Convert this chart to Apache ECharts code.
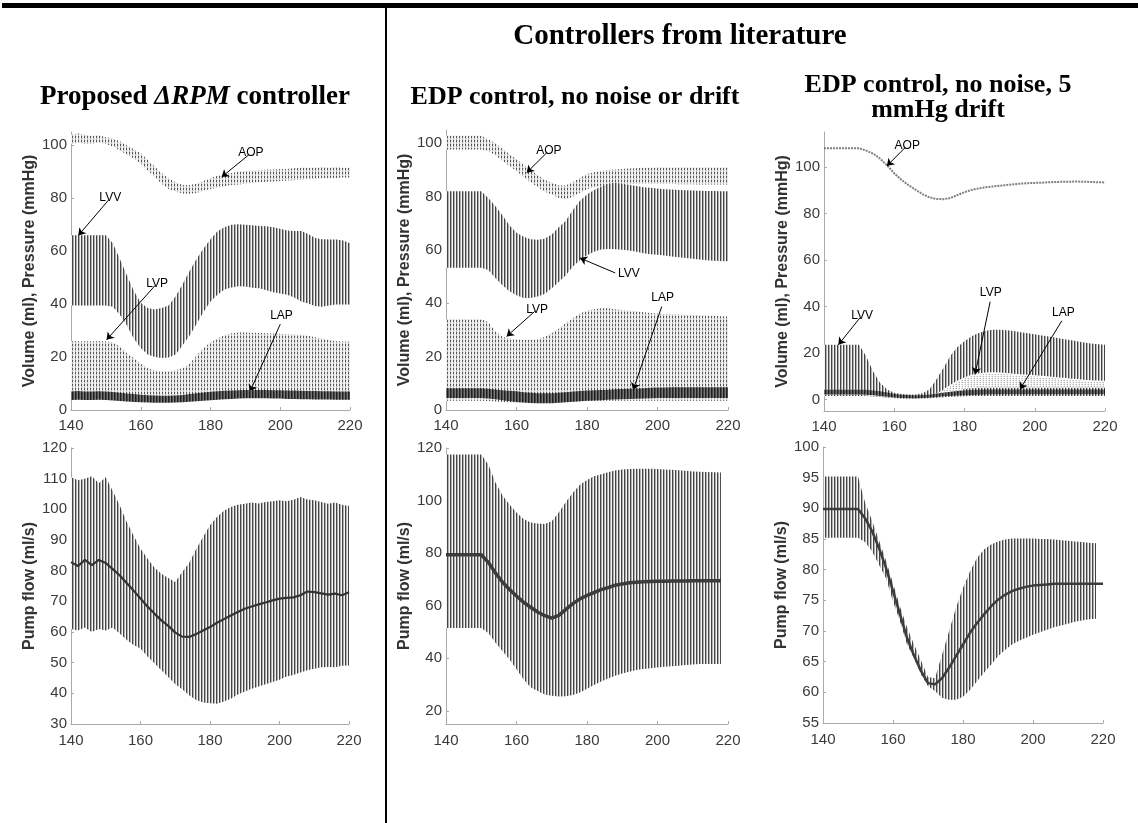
<!DOCTYPE html>
<html><head><meta charset="utf-8">
<script src="https://cdn.jsdelivr.net/npm/echarts@6/dist/echarts.min.js"></script>
<style>html,body{margin:0;padding:0;background:#fff}#c{width:1138px;height:823px}</style>
</head><body><div id="c"></div>
<script>
// ---------- data (time in s) ----------
const t = [140,142,144,146,148,150,152,154,156,158,160,162,164,166,168,170,172,174,176,178,180,182,184,186,188,190,192,194,196,198,200,202,204,206,208,210,212,214,216,218,220];

// Panel 1: Proposed ΔRPM controller
const p1AopHi = [104,104.5,104,103.5,103.8,103,102.5,101.5,100,98.5,97,94.5,92,89.5,87.5,86,85,85,85.5,86.5,87.5,88.5,89,89.5,90,90.3,90.5,90.5,90.8,90.8,91,91,91.3,91.5,91.5,91.5,91.8,91.5,91.8,91.5,91.5];
const p1AopLo = [100.5,101,100.5,100.5,101,100.5,99.5,98,96.5,95,93,90.5,88,85.5,83.5,82.5,81.8,81.7,82,82.8,83.5,84,84.5,85,85.2,85.5,85.8,86,86.2,86.3,86.5,86.7,86.8,87,87.2,87.3,87.5,87.5,87.6,87.8,87.8];
const p1LvvHi = [66,66,66,66,66,66,63,57,51,45,40.5,38.5,38,38.5,39.5,43,47.5,52.5,57,61,64.5,67.5,69,70,70.2,70,69.8,69.5,69.4,69,68.5,67.8,67.6,67.6,66.5,65,64.5,64.4,64.4,64,63];
const p1LvvLo = [39.5,39.5,39.5,39.5,39.5,39.5,39,36,32,27,23.4,21,20,19.6,19.8,21,24.5,28,32.5,37,41,43.5,45.5,46.3,46.7,46.6,46.2,46,45.2,44.5,44,43.5,42.5,41,40.2,39.3,39,39.5,39.8,39.8,39.8];
const p1LvpHi = [26,26,26,26,26,26,25.5,24,21.5,19.6,17.5,15.8,15,14.6,14.5,15,15.8,17.5,20.5,23.5,25.5,27,28.2,29,29.3,29.3,29.2,29.1,29,28.9,28.8,28.6,28.5,28.4,28,27.5,27,26.3,26,25.9,25.9];
const p1LvpLo = [4.5,4.5,4.5,4.5,4.5,4.5,4.3,4,3.8,3.6,3.4,3.2,3.1,3,3,3.1,3.2,3.4,3.6,3.8,4,4.2,4.4,4.6,4.7,4.8,4.8,4.8,4.8,4.8,4.8,4.8,4.7,4.7,4.6,4.6,4.6,4.5,4.5,4.5,4.5];
const p1LapHi = [7,7.2,7,7,7.1,7,6.8,6.5,6.2,6,5.8,5.6,5.5,5.4,5.4,5.5,5.7,6,6.3,6.6,6.9,7.1,7.3,7.4,7.5,7.6,7.6,7.6,7.6,7.5,7.5,7.4,7.4,7.3,7.2,7.2,7.1,7.1,7,7,7];
const p1LapLo = [3.8,3.9,3.8,3.8,3.9,3.8,3.6,3.4,3.2,3,2.9,2.8,2.7,2.7,2.7,2.8,2.9,3.1,3.3,3.5,3.7,3.9,4.1,4.2,4.3,4.4,4.4,4.4,4.4,4.3,4.3,4.2,4.2,4.1,4.1,4,4,4,3.9,3.9,3.9];

// Panel 2: EDP control, no noise or drift
const p2AopHi = [102.8,102.8,102.8,102.8,102.8,102.8,101.5,100,98,96,94,92,90,88,86.3,85.2,84.3,84.2,85.5,87,88.5,89.2,89.6,90,90.2,90.4,90.6,90.7,90.8,90.8,90.9,90.9,90.9,90.9,90.9,90.9,90.9,90.9,90.9,90.9,90.9];
const p2AopLo = [97.7,97.7,97.7,97.7,97.7,97.7,97,95.5,93.5,91.5,89.5,87.5,85.5,83.5,81.8,80.8,79.5,79,80,81.5,82.8,83.5,84,84.3,84.5,84.6,84.7,84.8,84.8,84.8,84.8,84.8,84.8,84.7,84.7,84.7,84.6,84.6,84.6,84.6,84.6];
const p2LvvHi = [82,82,82,82,82,82,79.5,76.5,73,69.3,66.5,65,64,63.8,64.2,65.8,68.5,71,75,78.5,80.8,82.5,83.8,84.8,85.2,84.8,84.4,84,83.5,83.3,83.1,82.8,82.7,82.5,82.4,82.3,82.2,82.1,82.1,82,82];
const p2LvvLo = [53.3,53.3,53.3,53.3,53.3,53.3,52.5,49.5,46.8,44.5,43,42,42,42.6,43.5,45.7,48,50.5,53.8,56.2,58,59.3,60.2,60.4,60.3,60.1,59.8,59.3,58.8,58.4,58.2,57.9,57.6,57.3,57,56.7,56.4,56.2,56,55.9,55.8];
const p2LvpHi = [34,34,34,34,34,34,33,29.5,27.5,26.8,26.4,26.3,26.3,26.5,27.5,28.8,30.5,32.6,34.5,36.2,37.2,37.8,38.2,38.2,37.8,37.5,37.2,37,36.7,36.4,36.2,36,35.9,35.8,35.7,35.6,35.5,35.4,35.3,35.2,35.1];
const p2LvpLo = [3.5,3.5,3.5,3.5,3.5,3.5,3.4,3.2,3,2.8,2.7,2.6,2.5,2.5,2.5,2.6,2.7,2.9,3.1,3.3,3.4,3.5,3.5,3.5,3.5,3.5,3.5,3.5,3.5,3.5,3.5,3.5,3.5,3.5,3.5,3.5,3.5,3.5,3.5,3.5,3.5];
const p2LapHi = [8.2,8.2,8.2,8.2,8.2,8.2,8,7.7,7.4,7.2,7,6.7,6.5,6.3,6.3,6.3,6.5,6.7,6.9,7.1,7.3,7.4,7.5,7.6,7.8,7.9,8,8.1,8.2,8.3,8.4,8.4,8.5,8.5,8.5,8.5,8.5,8.5,8.5,8.5,8.5];
const p2LapLo = [4.5,4.5,4.5,4.5,4.5,4.5,4.3,4,3.7,3.3,3,2.8,2.6,2.5,2.5,2.5,2.7,2.9,3.1,3.3,3.5,3.6,3.7,3.8,3.9,4,4.1,4.2,4.3,4.4,4.5,4.5,4.5,4.5,4.5,4.5,4.5,4.5,4.5,4.5,4.5];

// Panel 3: EDP control, no noise, 5 mmHg drift
const p3Aop = [108,108,108,108,108,108,107,105.7,103.5,100.6,97.2,94.5,92.2,90.2,88.3,86.9,86.2,86.1,86.6,87.9,89.1,90.1,90.7,91.2,91.6,91.9,92.2,92.5,92.8,93,93.1,93.2,93.4,93.5,93.6,93.6,93.7,93.6,93.5,93.4,93.3];
const p3LvvHi = [23.5,23.5,23.5,23.5,23.5,23.5,18.5,12,7,4.2,2.9,2.3,2.1,2.1,2.6,4.2,8.5,13.5,18.8,22.5,25,27.2,28.5,29.5,29.9,29.9,29.7,29.4,28.9,28.4,28,27.5,27,26.5,26,25.5,25,24.5,24,23.7,23.5];
const p3LvvLo = [1.5,1.5,1.5,1.5,1.5,1.5,1.4,1.2,1,0.7,0.5,0.4,0.4,0.4,0.4,0.5,0.7,0.9,1.1,1.2,1.3,1.4,1.5,1.5,1.5,1.5,1.5,1.5,1.5,1.5,1.5,1.5,1.5,1.5,1.5,1.5,1.5,1.5,1.5,1.5,1.5];
const p3LvpHi = [4.2,4.2,4.2,4.2,4.2,4.2,4,3.6,3.2,2.6,2.1,1.8,1.7,1.7,1.8,2,2.6,4,6,7.8,9.2,10.3,10.9,11.3,11.4,11.3,11.1,10.8,10.5,10.3,10.1,9.9,9.6,9.3,9,8.7,8.5,8.2,8,7.9,7.8];
const p3LvpLo = [2,2,2,2,2,2,1.8,1.5,1.2,0.9,0.8,0.8,0.8,0.8,0.8,0.8,1,1.4,2,3.2,4.5,4.8,5,5,5,5,5,5,5,5,5,5,5,5,5,5,5,5,5,5,5];
const p3LapHi = [4.3,4.3,4.3,4.3,4.3,4.3,4.1,3.8,3.5,3,2.3,2,1.9,1.8,1.9,2.1,2.5,2.9,3.3,3.6,3.8,4,4.1,4.2,4.3,4.3,4.3,4.3,4.3,4.3,4.3,4.3,4.3,4.3,4.3,4.3,4.3,4.3,4.3,4.3,4.3];
const p3LapLo = [2.1,2.1,2.1,2.1,2.1,2.1,2,1.8,1.5,1.1,0.8,0.6,0.5,0.5,0.6,0.7,1,1.3,1.5,1.7,1.8,1.9,2,2.1,2.2,2.2,2.2,2.2,2.2,2.2,2.2,2.2,2.2,2.2,2.2,2.2,2.2,2.2,2.2,2.2,2.2];

// Pump flow panels
const p4FlowHi = [110.5,109.5,110,110.8,108.5,110.5,106,101.3,96,91.5,87.2,84,81,79,77.6,76.3,79.6,82.5,87,91,94.8,97.5,99.5,100.8,101.5,101.8,102.2,101.9,102.4,102.6,103,102.6,103.1,104,103.2,103,102.4,101.8,102.2,101.5,101.1];
const p4FlowLo = [61,60.5,61.5,60,61,60.5,61.5,59.5,57.5,55.8,54.6,52,49.8,47.5,45.3,43,41.3,39.4,37.8,37,36.8,36.6,37.3,38.2,39.6,40.6,41.5,42.2,43,43.7,44.4,45.5,46,46.8,47.5,48,48.5,48.6,48.5,49,49.1];
const p4FlowMean = [82.8,81.5,83.5,81.8,83.5,82.5,80.5,78.5,76,73.5,70.9,68.3,66,63.8,62,59.8,58.5,58.4,59.3,60.5,61.6,63,64.2,65.4,66.5,67.6,68.3,69,69.6,70.3,70.9,71.1,71.3,72,73.2,73,72.6,72.2,72.5,72,73];

const p5FlowHi = [117.5,117.5,117.5,117.5,117.5,117.5,113.7,107,102,98.5,95.5,93,91.7,91.3,91.1,92.1,95.5,99.5,103,106,107.8,109.3,110,110.8,111.4,111.8,112,112.1,112.1,112.1,112,111.8,111.7,111.5,111.3,111.1,111,110.9,110.8,110.7,null];
const p5FlowLo = [51.5,51.5,51.5,51.5,51.5,51.5,49.6,46,42.8,39.6,35.8,32,29,27.6,26.2,25.7,25.5,25.6,26,27,28.4,29.8,31.2,32.3,33.4,34.2,34.9,35.5,35.9,36.2,36.5,36.8,37,37.2,37.4,37.6,37.8,37.8,37.8,37.8,null];
const p5FlowMean = [79.4,79.4,79.4,79.4,79.4,79.4,76.5,72.5,69,66.2,63.7,61.3,59.4,57.6,56.2,55.3,56.3,58.6,60.8,62.6,63.9,65,66.1,66.9,67.8,68.3,68.7,68.9,69.1,69.2,69.3,69.3,69.4,69.4,69.4,69.5,69.5,69.5,69.5,69.5,null];

const p6FlowHi = [95.2,95.2,95.2,95.2,95.2,95.2,91,88,84.8,81.5,77.8,74,70.6,67.8,65.2,62.5,62.3,66.1,69.9,73.8,77,79.7,81.9,83.3,84.1,84.6,84.9,85.1,85.1,85.1,85.1,85,85,84.9,84.8,84.7,84.6,84.5,84.4,84.3,null];
const p6FlowLo = [85.2,85.2,85.2,85.2,85.2,85.2,84.5,83,80.8,78.6,74.8,71.6,67.8,65.6,62.9,61,60.2,59.1,58.8,58.8,59.3,60.4,61.8,63.2,64.5,65.9,66.9,67.8,68.4,68.9,69.4,69.8,70.2,70.6,70.9,71.2,71.5,71.7,71.9,72,null];
const p6FlowMean = [89.9,89.9,89.9,89.9,89.9,89.9,88.4,86.3,83.5,80.3,76.5,72.7,68.9,66,63.5,61.5,61.3,62.3,64,65.9,67.8,69.7,71.3,72.7,74,75.1,75.9,76.5,76.9,77.2,77.4,77.5,77.6,77.7,77.7,77.7,77.7,77.7,77.7,77.7,77.7];

// annotations: [label, fromX, fromY, toX, toY]
const p1Notes = [['AOP',190.9,96.3,183.2,88],['LVV',150.7,79.2,142.1,65.9],['LVP',164.1,47,150.2,26.5],['LAP',200,32.4,191.3,6.9]];
const p2Notes = [['AOP',168.6,96.5,162.9,89],['LVV',188,51.4,178,57],['LVP',165.2,37,157.2,27.6],['LAP',201.2,38.8,193.1,7.5]];
const p3Notes = [['AOP',163.1,108.3,157.9,100.4],['LVV',150.3,35.2,144.1,23.5],['LVP',187.3,42,183,10.7],['LAP',207.7,33.8,195.8,4.3]];

// tick labels
const xTicks = [140,160,180,200,220];
const yTicksTop = [0,20,40,60,80,100];
const yTicksP4 = [30,40,50,60,70,80,90,100,110,120];
const yTicksP5 = [20,40,60,80,100,120];
const yTicksP6 = [55,60,65,70,75,80,85,90,95,100];

const titles = {
  main: 'Controllers from literature',
  c1a: 'Proposed ', c1b: 'ΔRPM', c1c: ' controller',
  c2: 'EDP control, no noise or drift',
  c3a: 'EDP control, no noise, 5', c3b: 'mmHg drift'
};
const yNameTop = 'Volume (ml), Pressure (mmHg)';
const yNameBot = 'Pump flow (ml/s)';

// ---------- styling helpers ----------
function makePattern(cols){
  const w = cols.length, h = cols[0].length;
  const c = document.createElement('canvas'); c.width = w; c.height = h;
  const ctx = c.getContext('2d');
  cols.forEach((col,x)=>col.forEach((clr,y)=>{ctx.fillStyle = clr; ctx.fillRect(x,y,1,1);}));
  return {image: c, repeat: 'repeat'};
}
const stripe = makePattern([['#444444'],['#b0b0b0'],['#f5f5f5']]);
const dotted = makePattern([['#555555','#555555','#bdbdbd','#bdbdbd'],['#dadada','#ffffff','#dadada','#ffffff'],['#ffffff','#ebebeb','#ffffff','#ebebeb']]);
const darkBand = makePattern([['#1e1e1e'],['#4a4a4a'],['#767676']]);
const whiteDot = makePattern([['#ffffff','#ffffff'],['#dedede','#ffffff'],['#b5b5b5','#eeeeee']]);

function pairs(arr){ return t.map((x,i)=>[x, arr[i]]); }
// band between lower and upper envelope, drawn as one polygon through the axis scales
function band(g, lo, hi, pat, z, edge){
  return {type:'custom', xAxisIndex:g, yAxisIndex:g, silent:true, z:z, clip:true,
    data: t.map((x,i)=>[x, lo[i], hi[i]]),
    encode:{x:0, y:[1,2]},
    renderItem:function(params, api){
      if (params.dataIndex !== 0) return null;
      const top = [], bot = [];
      t.forEach((x,i)=>{
        if (hi[i] == null || lo[i] == null) return;
        top.push(api.coord([x, hi[i]]));
        bot.push(api.coord([x, lo[i]]));
      });
      const children = [{type:'polygon', shape:{points: top.concat(bot.slice().reverse())}, style:{fill:pat}}];
      if (edge) children.push({type:'polyline', shape:{points: top.slice(17)}, style:{fill:null, stroke:edge, lineWidth:1.2}});
      return {type:'group', children:children};
    }};
}
function meanLine(g, arr, color, width, z){
  return {type:'line', xAxisIndex:g, yAxisIndex:g, data:pairs(arr), symbol:'none', silent:true, z:z,
    lineStyle:{color:color, width:width}};
}
function notes(g, list){
  return {type:'line', xAxisIndex:g, yAxisIndex:g, data:[], symbol:'none', silent:true, z:20,
    markLine:{silent:true, animation:false, symbol:['none','arrow'], symbolSize:7, precision:3,
      lineStyle:{color:'#000', width:1, type:'solid'},
      label:{show:true, position:'start', formatter:'{b}', color:'#000', fontSize:12, fontFamily:'Liberation Sans', distance:3},
      emphasis:{disabled:true},
      data:list.map(n=>[{name:n[0], coord:[n[1],n[2]]},{coord:[n[3],n[4]]}])}};
}
const AX = '#aaaaaa', LBL = '#3a3a3a';
function xAx(g, margin){
  return {type:'value', gridIndex:g, min:140, max:220, interval:20,
    axisLine:{show:true, onZero:false, lineStyle:{color:AX, width:1}},
    axisTick:{show:true, inside:true, length:3, customValues:xTicks, lineStyle:{color:AX}},
    axisLabel:{customValues:xTicks, color:LBL, fontSize:15, fontFamily:'Liberation Sans', margin:margin},
    splitLine:{show:false}};
}
function yAx(g, min, max, ticks, name, gap){
  return {type:'value', gridIndex:g, min:min, max:max,
    name:name, nameLocation:'middle', nameGap:gap, nameRotate:90,
    nameTextStyle:{fontWeight:'bold', fontSize:16, color:'#333', fontFamily:'Liberation Sans'},
    axisLine:{show:true, onZero:false, lineStyle:{color:AX, width:1}},
    axisTick:{show:true, inside:true, length:3, customValues:ticks, lineStyle:{color:AX}},
    axisLabel:{customValues:ticks, color:LBL, fontSize:15, fontFamily:'Liberation Sans', margin:4},
    splitLine:{show:false}};
}

const series = [
  band(0, p1AopLo, p1AopHi, dotted, 2),
  band(0, p1LvpLo, p1LvpHi, dotted, 3),
  band(0, p1LvvLo, p1LvvHi, stripe, 4),
  band(0, p1LapLo, p1LapHi, darkBand, 5),
  notes(0, p1Notes),
  band(1, p2AopLo, p2AopHi, dotted, 2),
  band(1, p2LvpLo, p2LvpHi, dotted, 3),
  band(1, p2LvvLo, p2LvvHi, stripe, 4),
  band(1, p2LapLo, p2LapHi, darkBand, 5),
  notes(1, p2Notes),
  {type:'line', xAxisIndex:2, yAxisIndex:2, data:pairs(p3Aop), symbol:'none', silent:true, z:2,
     lineStyle:{color:'#808080', width:2, type:[2,1]}},
  band(2, p3LvvLo, p3LvvHi, stripe, 3),
  band(2, p3LvpLo, p3LvpHi, whiteDot, 4, '#ffffff'),
  band(2, p3LapLo, p3LapHi, darkBand, 5),
  notes(2, p3Notes),
  band(3, p4FlowLo, p4FlowHi, stripe, 3),
  meanLine(3, p4FlowMean, '#333', 2.2, 5),
  band(4, p5FlowLo, p5FlowHi, stripe, 3),
  meanLine(4, p5FlowMean, '#3c3c3c', 3.5, 5),
  band(5, p6FlowLo, p6FlowHi, stripe, 3),
  meanLine(5, p6FlowMean, '#3c3c3c', 2.5, 5)
];

const serif = '"Liberation Serif", "Times New Roman", serif';
function txt(x, y, text, size){
  return {type:'text', x:x, y:y, z:50, style:{text:text, fill:'#000',
    font:'bold '+size+'px '+serif, align:'center', verticalAlign:'middle', textAlign:'center', textVerticalAlign:'middle'}};
}

const option = {
  animation:false,
  backgroundColor:'#fff',
  grid:[
    {left:71, top:132, width:279, height:278, outerBoundsMode:'none'},
    {left:446, top:130, width:282, height:280, outerBoundsMode:'none'},
    {left:824, top:132, width:281, height:279, outerBoundsMode:'none'},
    {left:71, top:448, width:278, height:276, outerBoundsMode:'none'},
    {left:446, top:448, width:282, height:276, outerBoundsMode:'none'},
    {left:823, top:447, width:280, height:276, outerBoundsMode:'none'}
  ],
  xAxis:[xAx(0,8),xAx(1,8),xAx(2,8),xAx(3,9),xAx(4,9),xAx(5,9)],
  yAxis:[
    yAx(0, 0, 105, yTicksTop, yNameTop, 30),
    yAx(1, 0, 105, yTicksTop, yNameTop, 21),
    yAx(2, -5, 115, yTicksTop, yNameTop, 27),
    yAx(3, 30, 120, yTicksP4, yNameBot, 30),
    yAx(4, 15, 120, yTicksP5, yNameBot, 24),
    yAx(5, 55, 100, yTicksP6, yNameBot, 26)
  ],
  series: series,
  graphic:[
    {type:'rect', z:50, shape:{x:2, y:3, width:1136, height:5}, style:{fill:'#000'}},
    {type:'rect', z:50, shape:{x:385, y:7, width:2, height:816}, style:{fill:'#000'}},
    txt(680, 37, titles.main, 29),
    {type:'text', x:195, y:97, z:50, style:{
      text:'{a|'+titles.c1a+'}{b|'+titles.c1b+'}{a|'+titles.c1c+'}',
      align:'center', verticalAlign:'middle', textAlign:'center', textVerticalAlign:'middle',
      rich:{a:{font:'bold 27px '+serif, fill:'#000', color:'#000'}, b:{font:'italic bold 27px '+serif, fill:'#000', color:'#000'}}}},
    txt(575, 97, titles.c2, 26),
    txt(938, 85, titles.c3a, 26),
    txt(938, 110, titles.c3b, 26)
  ]
};
const chart = echarts.init(document.getElementById('c'), null, {renderer:'canvas'});
chart.setOption(option);
</script>
</body></html>
